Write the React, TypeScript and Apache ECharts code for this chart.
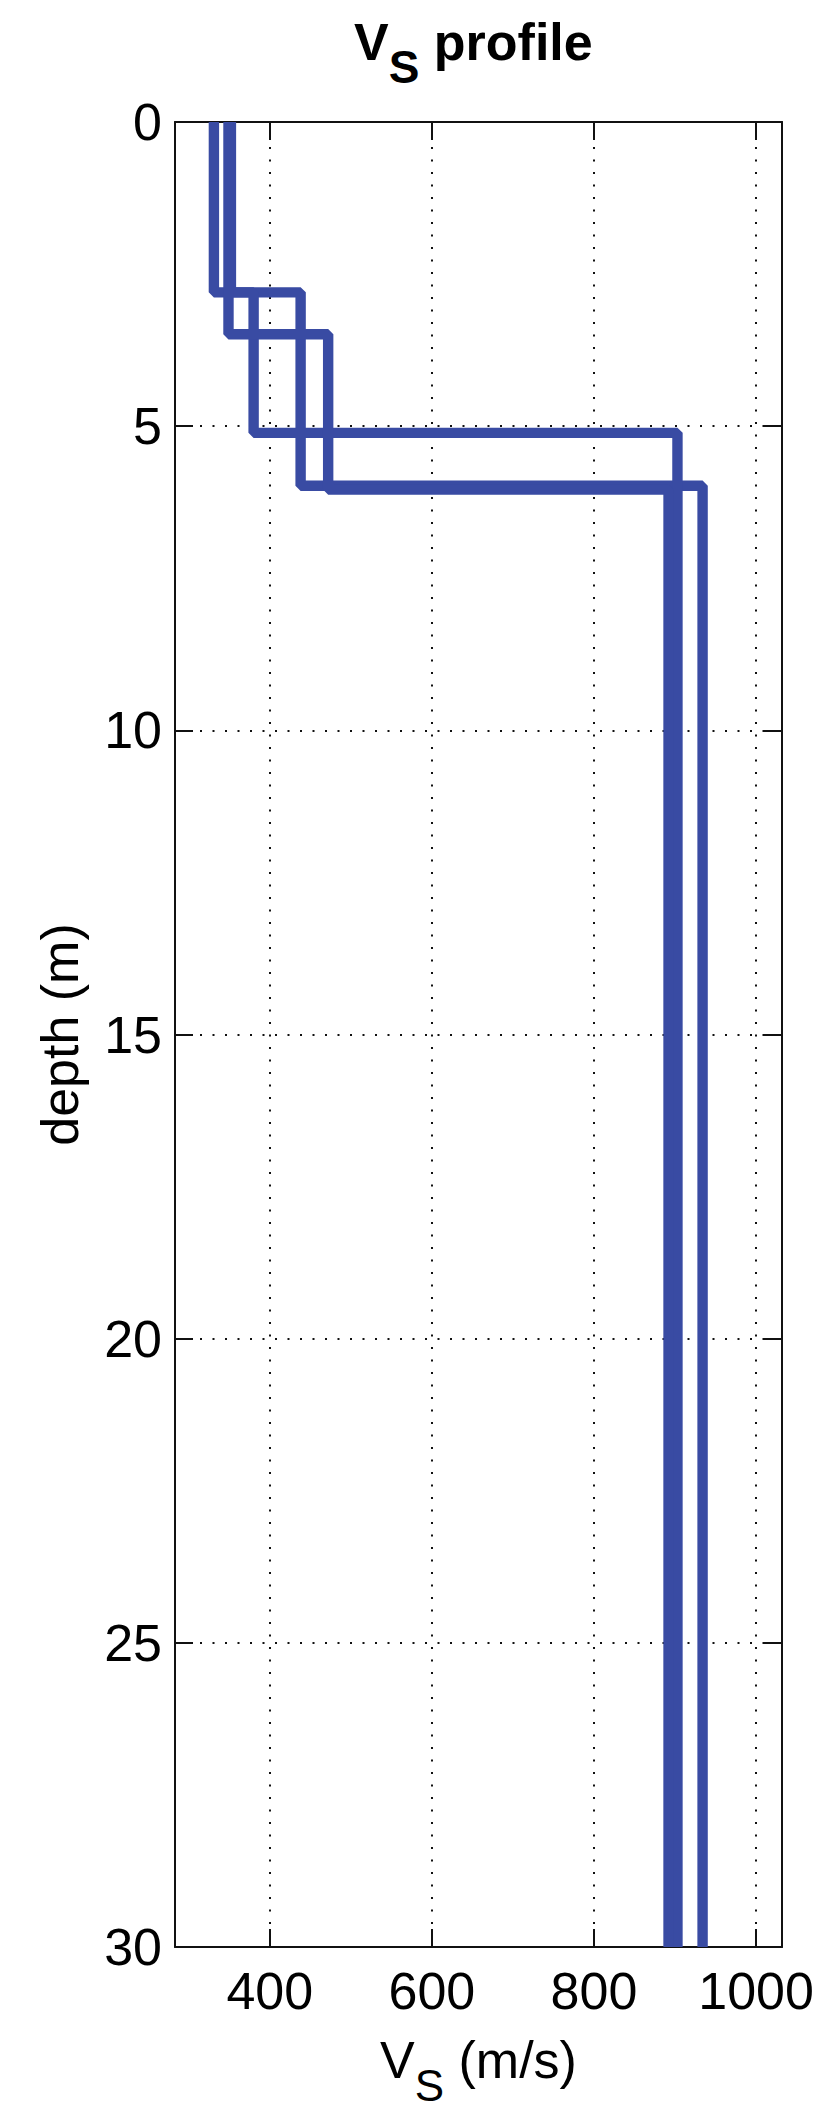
import React, { useEffect, useRef } from 'react';
import * as echarts from 'echarts';

// Axis ranges and ticks
const VS_MIN = 283;
const VS_MAX = 1032;
const vsTicks = [400, 600, 800, 1000];
const DEPTH_MIN = 0;
const DEPTH_MAX = 30;
const DEPTH_STEP = 5;

// Three layered Vs profiles: velocity per layer and depths of layer interfaces (m)
const profileAVs = [331, 438, 934];
const profileAInterfaces = [2.8, 5.98];
const profileBVs = [352, 380, 903];
const profileBInterfaces = [2.8, 5.11];
const profileCVs = [349, 472, 892];
const profileCInterfaces = [3.49, 6.04];

const LINE_COLOR = '#394ba3';
const FONT = "'Liberation Sans', Arial, Helvetica, sans-serif";

function stepPoints(vs: number[], interfaces: number[]) {
  const bounds = [DEPTH_MIN, ...interfaces, DEPTH_MAX];
  const pts: number[][] = [];
  vs.forEach((v, i) => {
    pts.push([v, bounds[i]]);
    pts.push([v, bounds[i + 1]]);
  });
  return pts;
}

export default function App() {
  const ref = useRef<HTMLDivElement>(null);
  useEffect(() => {
    if (!ref.current) return;
    const chart = echarts.init(ref.current, undefined, { renderer: 'svg' });
    const axisLineStyle = { color: '#111', width: 2 };
    const gridStyle = { color: '#111', width: 2, type: [2, 10.5] as any };
    const txt = (size: number, bold = false) => ({
      fontFamily: FONT,
      fontSize: size,
      lineHeight: size,
      fontWeight: bold ? 'bold' : 'normal',
      color: '#000',
      verticalAlign: 'top',
    });
    const mkSeries = (name: string, vs: number[], intf: number[]) => ({
      name,
      type: 'line',
      data: stepPoints(vs, intf),
      xAxisIndex: 0,
      yAxisIndex: 0,
      symbol: 'none',
      showSymbol: false,
      lineStyle: { color: LINE_COLOR, width: 10.4 },
      itemStyle: { color: LINE_COLOR },
      clip: false,
    });
    chart.setOption({
      animation: false,
      backgroundColor: '#ffffff',
      title: {
        text: '{v|V}{s|S}{p| profile}',
        left: 354,
        top: 16,
        padding: 0,
        textStyle: {
          rich: {
            v: txt(52, true),
            s: { ...txt(46, true), padding: [28, 0, 0, 0] },
            p: txt(52, true),
          },
        },
      },
      grid: { left: 175, right: 38, top: 122, bottom: 160, containLabel: false },
      xAxis: [
        {
          type: 'value',
          position: 'bottom',
          min: VS_MIN,
          max: VS_MAX,
          name: '{v|V}{s|S}{u| (m/s)}',
          nameLocation: 'middle',
          nameGap: 87,
          nameTextStyle: {
            rich: {
              v: txt(52),
              s: { ...txt(44), padding: [29, 0, 0, 0] },
              u: txt(52),
            },
          },
          axisLine: { show: true, onZero: false, lineStyle: axisLineStyle },
          axisTick: { show: true, inside: true, length: 18, customValues: vsTicks, lineStyle: axisLineStyle },
          axisLabel: {
            customValues: vsTicks,
            formatter: (v: number) => String(v),
            margin: 18,
            fontSize: 52,
            lineHeight: 52,
            fontFamily: FONT,
            color: '#000',
          },
          splitLine: { show: true, lineStyle: gridStyle },
        },
        {
          type: 'value',
          position: 'top',
          min: VS_MIN,
          max: VS_MAX,
          axisLine: { show: true, onZero: false, lineStyle: axisLineStyle },
          axisTick: { show: true, inside: true, length: 18, customValues: vsTicks, lineStyle: axisLineStyle },
          axisLabel: { show: false, customValues: vsTicks },
          splitLine: { show: false },
        },
      ],
      yAxis: [
        {
          type: 'value',
          position: 'left',
          inverse: true,
          min: DEPTH_MIN,
          max: DEPTH_MAX,
          interval: DEPTH_STEP,
          name: 'depth (m)',
          nameLocation: 'middle',
          nameRotate: 90,
          nameGap: 89,
          nameTextStyle: { fontFamily: FONT, fontSize: 52, lineHeight: 52, color: '#000' },
          axisLine: { show: true, onZero: false, lineStyle: axisLineStyle },
          axisTick: { show: true, inside: true, length: 18, lineStyle: axisLineStyle },
          axisLabel: {
            formatter: (v: number) => String(v),
            margin: 13,
            fontSize: 52,
            lineHeight: 52,
            fontFamily: FONT,
            color: '#000',
          },
          splitLine: { show: true, lineStyle: gridStyle },
        },
        {
          type: 'value',
          position: 'right',
          inverse: true,
          min: DEPTH_MIN,
          max: DEPTH_MAX,
          interval: DEPTH_STEP,
          axisLine: { show: true, onZero: false, lineStyle: axisLineStyle },
          axisTick: { show: true, inside: true, length: 18, lineStyle: axisLineStyle },
          axisLabel: { show: false },
          splitLine: { show: false },
        },
      ],
      series: [
        mkSeries('profile A', profileAVs, profileAInterfaces),
        mkSeries('profile B', profileBVs, profileBInterfaces),
        mkSeries('profile C', profileCVs, profileCInterfaces),
      ],
    });
    return () => chart.dispose();
  }, []);
  return (
    <div
      ref={ref}
      style={{ position: 'absolute', left: 0, top: 0, width: 820, height: 2112, background: '#fff' }}
    />
  );
}
